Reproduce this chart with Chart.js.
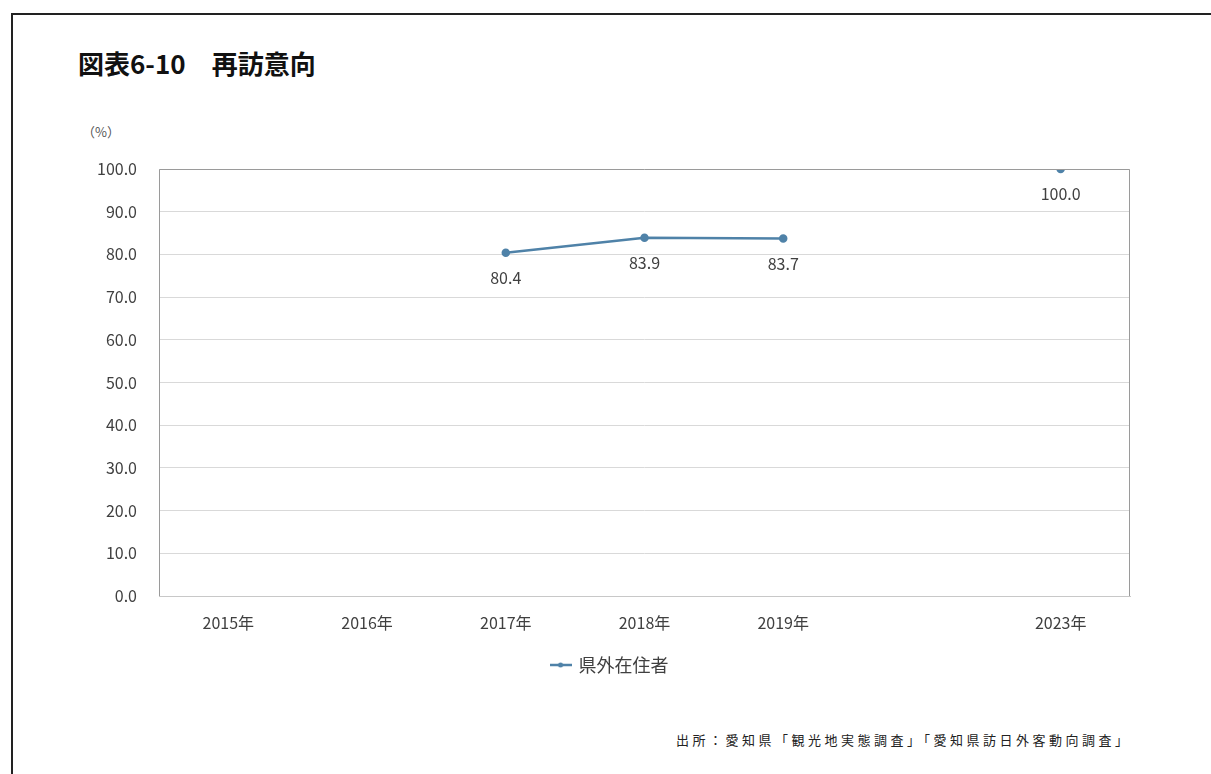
<!DOCTYPE html>
<html><head><meta charset="utf-8">
<script src="https://cdn.jsdelivr.net/npm/chart.js@4/dist/chart.umd.min.js"></script>
<style>
html,body{margin:0;padding:0;background:#fff;width:1211px;height:774px;overflow:hidden;font-family:"Noto Sans CJK JP","Noto Sans",sans-serif;}
#frame{position:absolute;left:11px;top:13px;width:1300px;height:800px;border:2px solid #222;box-sizing:border-box;}
#title{position:absolute;left:78px;top:45px;font-size:26px;line-height:36px;font-weight:bold;color:#111;white-space:pre;}
#unit{position:absolute;left:82px;top:122px;font-size:13px;line-height:20px;color:#555;font-family:"Noto Sans CJK JP";}
#src{position:absolute;left:676px;top:730px;font-size:13px;line-height:20px;letter-spacing:3.5px;color:#222;white-space:pre;}
#wrap{position:absolute;left:0;top:0;width:1211px;height:774px;}
</style></head>
<body>
<div id="frame"></div>
<div id="title">図表6-10　再訪意向</div>
<div id="unit">（%）</div>
<div id="src">出所：愛知県「観光地実態調査」「愛知県訪日外客動向調査」</div>
<div id="wrap"><canvas id="c" width="1211" height="774"></canvas></div>
<script>
const categories = ['2015年','2016年','2017年','2018年','2019年','','2023年'];
const seriesName = '県外在住者';
const values = [null, null, 80.4, 83.9, 83.7, null, 100.0];
const yTicks = [0,10,20,30,40,50,60,70,80,90,100];

const lineColor = '#4f82a8';
const FONT = '"Noto Sans CJK JP","Noto Sans",sans-serif';

// legend icon: short line with a small marker
const legendIcon = document.createElement('canvas');
legendIcon.width = 22; legendIcon.height = 8;
(function(){
  const g = legendIcon.getContext('2d');
  g.strokeStyle = lineColor; g.lineWidth = 2.5;
  g.beginPath(); g.moveTo(0, 4); g.lineTo(22, 4); g.stroke();
  g.fillStyle = lineColor;
  g.beginPath(); g.arc(11, 4, 2.5, 0, Math.PI * 2); g.fill();
})();

const labelPlugin = {
  id: 'valueLabels',
  afterDatasetsDraw(chart) {
    const ctx = chart.ctx;
    const meta = chart.getDatasetMeta(0);
    ctx.save();
    ctx.font = '16px ' + FONT;
    ctx.fillStyle = '#404040';
    ctx.textAlign = 'center';
    ctx.textBaseline = 'middle';
    meta.data.forEach((pt, i) => {
      const v = values[i];
      if (v === null || v === undefined) return;
      ctx.fillText(v.toFixed(1), pt.x, pt.y + 25);
    });
    ctx.restore();
  }
};
const boxPlugin = {
  id: 'areaBox',
  afterDraw(chart) {
    const a = chart.chartArea, ctx = chart.ctx;
    ctx.save();
    ctx.strokeStyle = '#9a9a9a';
    ctx.lineWidth = 1;
    ctx.beginPath();
    ctx.moveTo(a.left + 0.5, a.bottom);
    ctx.lineTo(a.left + 0.5, a.top + 0.5);
    ctx.lineTo(a.right - 0.5, a.top + 0.5);
    ctx.lineTo(a.right - 0.5, a.bottom);
    ctx.stroke();
    ctx.restore();
  }
};

new Chart(document.getElementById('c'), {
  type: 'line',
  data: {
    labels: categories,
    datasets: [{
      label: seriesName,
      data: values,
      borderColor: lineColor,
      backgroundColor: lineColor,
      borderWidth: 2.5,
      pointRadius: 3,
      pointBackgroundColor: lineColor,
      pointBorderColor: lineColor,
      spanGaps: false,
      tension: 0
    }]
  },
  options: {
    responsive: false,
    animation: false,
    layout: { padding: { left: 90, top: 169, right: 81, bottom: 90 } },
    scales: {
      x: {
        offset: true,
        grid: { display: false, drawTicks: false },
        border: { display: true, color: '#c8c8c8', width: 1 },
        ticks: { color: '#404040', font: { size: 16, family: FONT }, padding: 17, maxRotation: 0, autoSkip: false },
        afterFit(s) { s.height = 50; }
      },
      y: {
        min: 0, max: 100,
        afterBuildTicks(s) { s.ticks = yTicks.map(v => ({ value: v })); },
        grid: { color: '#d9d9d9', drawTicks: false },
        border: { display: false },
        ticks: { color: '#404040', font: { size: 16, family: FONT }, padding: 22, callback: v => Number(v).toFixed(1) },
        afterFit(s) { s.width = 69; }
      }
    },
    plugins: {
      legend: {
        position: 'bottom',
        labels: {
          color: '#404040', font: { size: 18, family: FONT }, padding: 10,
          usePointStyle: true, boxWidth: 22, boxHeight: 8,
          generateLabels(chart) {
            const items = Chart.defaults.plugins.legend.labels.generateLabels(chart);
            items.forEach(it => { it.pointStyle = legendIcon; });
            return items;
          }
        }
      },
      tooltip: { enabled: false }
    }
  },
  plugins: [labelPlugin, boxPlugin]
});
</script>
</body></html>
